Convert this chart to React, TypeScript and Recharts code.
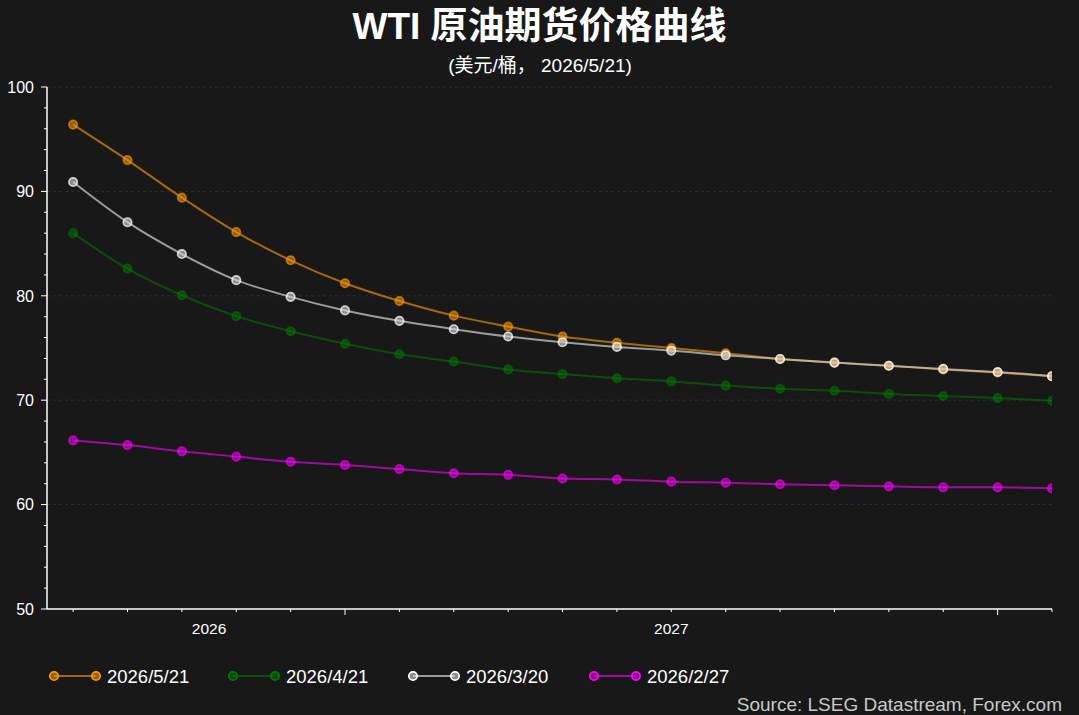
import { LineChart, Line, XAxis, YAxis, ReferenceLine } from "recharts";

// contract months on the curve (front month first)
const contracts = [
  "2026-08", "2026-09", "2026-10", "2026-11", "2026-12",
  "2027-01", "2027-02", "2027-03", "2027-04", "2027-05", "2027-06",
  "2027-07", "2027-08", "2027-09", "2027-10", "2027-11", "2027-12",
  "2028-01", "2028-02",
];

// settlement curves, USD/bbl
const curve0521 = [96.4, 93.0, 89.4, 86.1, 83.4, 81.2, 79.5, 78.1, 77.05, 76.1, 75.5, 75.0, 74.5, 73.95, 73.6, 73.3, 72.95, 72.65, 72.3];
const curve0421 = [86.0, 82.6, 80.05, 78.05, 76.6, 75.4, 74.4, 73.7, 72.95, 72.5, 72.1, 71.8, 71.4, 71.1, 70.9, 70.6, 70.4, 70.2, 69.95];
const curve0320 = [90.9, 87.05, 84.0, 81.5, 79.9, 78.6, 77.6, 76.8, 76.1, 75.55, 75.1, 74.75, 74.3, 73.95, 73.6, 73.3, 73.0, 72.7, 72.3];
const curve0227 = [66.15, 65.7, 65.1, 64.6, 64.1, 63.8, 63.4, 63.0, 62.85, 62.5, 62.4, 62.2, 62.1, 61.95, 61.85, 61.75, 61.65, 61.65, 61.55];

const seriesNames = ["2026/5/21", "2026/4/21", "2026/3/20", "2026/2/27"];
const seriesValues = [curve0521, curve0421, curve0320, curve0227];

const yMajor = [50, 60, 70, 80, 90, 100];
const yTicks = [50, 52, 54, 56, 58, 60, 62, 64, 66, 68, 70, 72, 74, 76, 78, 80, 82, 84, 86, 88, 90, 92, 94, 96, 98, 100];

// year boundaries (index of January contracts) and year labels centred on each span
const yearStarts = [5, 17];
const yearLabels = [
  { at: 2.5, text: "2026" },
  { at: 11, text: "2027" },
];

const title = "WTI 原油期货价格曲线";
const subtitle = "(美元/桶， 2026/5/21)";
const source = "Source: LSEG Datastream, Forex.com";

const data = contracts.map((m, i) => {
  const row: Record<string, number | string> = { i, month: m };
  seriesNames.forEach((n, k) => {
    row[n] = seriesValues[k][i];
  });
  return row;
});

const styles: Record<string, { color: string; lineOpacity: number; ring: string; fill: string; fillOpacity: number }> = {
  "2026/5/21": { color: "#ff9900", lineOpacity: 0.62, ring: "#ff9900", fill: "#ff9900", fillOpacity: 0.55 },
  "2026/4/21": { color: "#008000", lineOpacity: 0.5, ring: "#007a00", fill: "#008000", fillOpacity: 0.45 },
  "2026/3/20": { color: "#c8c8c8", lineOpacity: 0.75, ring: "#ffffff", fill: "#d8d8d8", fillOpacity: 0.6 },
  "2026/2/27": { color: "#ff00ff", lineOpacity: 0.6, ring: "#ff00ff", fill: "#ff00ff", fillOpacity: 0.5 },
};

const W = 1079;
const H = 715;
const BG = "#181818";
const FONT = '"Liberation Sans", Arial, "Noto Sans CJK SC", sans-serif';

const xTickValues = Array.from(new Set([...contracts.map((_, i) => i), ...yearLabels.map((l) => l.at)]));

function YTick(props: any) {
  const { x, y, payload } = props;
  const major = yMajor.includes(payload.value);
  return (
    <g>
      <line x1={x - (major ? 6 : 3)} x2={x} y1={y} y2={y} stroke="#ffffff" strokeWidth={1} />
      {major && (
        <text x={x - 13} y={y} dy="0.36em" textAnchor="end" fill="#ffffff" fontSize={16} fontFamily={FONT}>
          {payload.value}
        </text>
      )}
    </g>
  );
}

function XTick(props: any) {
  const { x, y, payload } = props;
  const v = payload.value;
  const isMonth = Number.isInteger(v);
  const major = yearStarts.includes(v);
  const label = yearLabels.find((l) => l.at === v);
  return (
    <g>
      {isMonth && <line x1={x} x2={x} y1={y} y2={y + (major ? 6 : 3)} stroke="#ffffff" strokeWidth={1} />}
      {label && (
        <text x={x} y={y + 25} textAnchor="middle" fill="#ffffff" fontSize={15.5} fontFamily={FONT}>
          {label.text}
        </text>
      )}
    </g>
  );
}

function LegendMarker({ x, y, s }: { x: number; y: number; s: (typeof styles)[string] }) {
  return <circle cx={x} cy={y} r={4.2} stroke={s.ring} strokeWidth={1.7} fill={s.fill} fillOpacity={s.fillOpacity} />;
}

const legendX = [54, 233, 413, 594];

export default function App() {
  return (
    <div style={{ position: "fixed", left: 0, top: 0, width: W, height: H, background: BG, fontFamily: FONT }}>
      <LineChart width={W} height={H} data={data} margin={{ top: 87, right: 27, left: 0, bottom: 66 }}>
        <XAxis
          type="number"
          dataKey="i"
          domain={[-0.48, 18]}
          allowDataOverflow
          ticks={xTickValues}
          interval={0}
          tickSize={0}
          tickMargin={0}
          tickLine={false}
          axisLine={{ stroke: "#ffffff", strokeWidth: 1.5 }}
          tick={<XTick />}
          height={40}
        />
        <YAxis
          type="number"
          domain={[50, 100]}
          ticks={yTicks}
          interval={0}
          tickSize={0}
          tickMargin={0}
          tickLine={false}
          axisLine={{ stroke: "#ffffff", strokeWidth: 1.5 }}
          tick={<YTick />}
          width={47}
        />
        {yMajor
          .filter((v) => v > 50)
          .map((v) => (
            <ReferenceLine key={v} y={v} stroke="#303030" strokeDasharray="3 3" />
          ))}
        {seriesNames.map((n) => {
          const s = styles[n];
          return (
            <Line
              key={n}
              type="monotone"
              dataKey={n}
              stroke={s.color}
              strokeOpacity={s.lineOpacity}
              strokeWidth={2}
              dot={{ r: 4.2, stroke: s.ring, strokeWidth: 1.7, fill: s.fill, fillOpacity: s.fillOpacity, clipDot: true }}
              activeDot={false}
              isAnimationActive={false}
            />
          );
        })}
      </LineChart>
      <svg width={W} height={H} style={{ position: "absolute", left: 0, top: 0, pointerEvents: "none" }}>
        <text x={539.5} y={39} textAnchor="middle" fill="#ffffff" fontSize={37} fontWeight="bold" fontFamily={FONT}>
          {title}
        </text>
        <text x={540} y={72} textAnchor="middle" fill="#ffffff" fontSize={19} fontFamily={FONT}>
          {subtitle}
        </text>
        {seriesNames.map((n, k) => {
          const s = styles[n];
          const x0 = legendX[k];
          return (
            <g key={n}>
              <line x1={x0} x2={x0 + 42} y1={676} y2={676} stroke={s.color} strokeOpacity={s.lineOpacity} strokeWidth={2} />
              <LegendMarker x={x0} y={676} s={s} />
              <LegendMarker x={x0 + 42} y={676} s={s} />
              <text x={x0 + 53} y={682.5} fill="#ffffff" fontSize={18.5} fontFamily={FONT}>
                {n}
              </text>
            </g>
          );
        })}
        <text x={1062} y={711} textAnchor="end" fill="#c8c8c8" fontSize={19} fontFamily={FONT}>
          {source}
        </text>
      </svg>
    </div>
  );
}
